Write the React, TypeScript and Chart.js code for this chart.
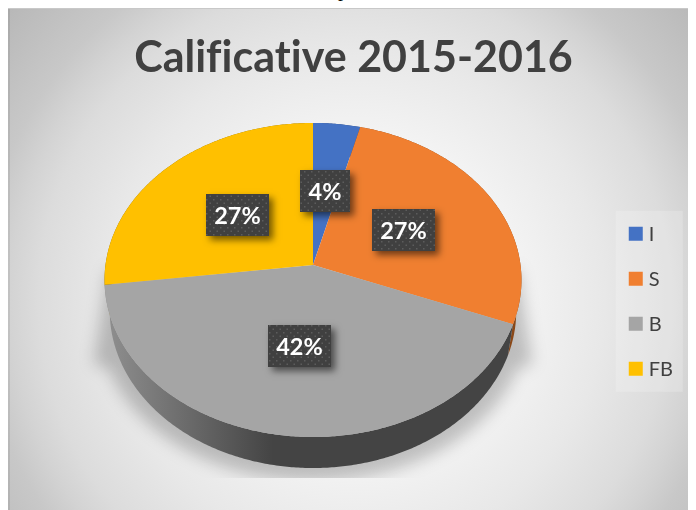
import React, { useEffect, useRef } from "react";
import { Chart, registerables } from "chart.js";

Chart.register(...registerables);

const categories = ["I", "S", "B", "FB"];
const seriesValues = [4, 27, 42, 27];
const sliceColors = ["#4472C4", "#F07F30", "#A5A5A5", "#FFC000"];
const wallColors = ["#2a4478", "#8a4818", "#444444", "#8a6a00"];
const titleText = "Calificative 2015-2016";
const fragmentText = "p";

// Perspective of the tilted pie, canvas coordinates (canvas sits at 8,8)
const CX = 305, APEX_Y = 257, RX = 207.5, RY = 155.6, K = -0.0955;
const DEPTH = 31, BOTTOM_SCALE = 0.975;

const project = (a: number, r = 1) => {
  const u = Math.cos(a) * r, v = Math.sin(a) * r;
  const w = 1 + K * v;
  return { x: CX + (RX * u) / w, y: APEX_Y + (RY * v) / w };
};
const projectBottom = (a: number) => {
  const p = project(a);
  return { x: CX + (p.x - CX) * BOTTOM_SCALE, y: p.y + DEPTH };
};

const rimAngles = (start: number, end: number) => {
  const n = Math.max(2, Math.ceil(Math.abs(end - start) / 0.01));
  const out: number[] = [];
  for (let i = 0; i <= n; i++) out.push(start + ((end - start) * i) / n);
  return out;
};

const backdrop = {
  id: "backdrop",
  beforeDraw(chart: any) {
    const { ctx, width, height } = chart;
    (ctx as any).letterSpacing = "0.01px";
    ctx.save();
    const g = ctx.createRadialGradient(347, 292, 0, 347, 292, 480);
    g.addColorStop(0, "#ffffff");
    g.addColorStop(0.3, "#f6f6f6");
    g.addColorStop(0.52, "#e8e8e8");
    g.addColorStop(0.66, "#dcdcdc");
    g.addColorStop(0.72, "#d3d3d3");
    g.addColorStop(0.78, "#c8c8c8");
    g.addColorStop(0.94, "#b8b8b8");
    g.addColorStop(1, "#b4b4b4");
    ctx.fillStyle = g;
    ctx.fillRect(0, 0, width, height);
    ctx.fillStyle = "rgba(0,0,0,0.08)";
    ctx.fillRect(0, 0, 2, height);
    ctx.fillStyle = "#c8c8c8";
    ctx.fillRect(0, 0, width, 1);

    // legend panel
    const boxes = chart.legend.legendHitBoxes;
    const first = boxes[0], last = boxes[boxes.length - 1];
    ctx.fillStyle = "rgba(255,255,255,0.2)";
    ctx.fillRect(first.left - 13, first.top - 13, 67, last.top + last.height + 13 - (first.top - 13));
    ctx.restore();
  },
  afterDraw(chart: any) {
    const { ctx } = chart;
    ctx.save();
    ctx.fillStyle = "#404040";
    ctx.font = "20px Lato";
    ctx.textAlign = "left";
    ctx.textBaseline = "middle";
    chart.legend.legendItems.forEach((item: any, i: number) => {
      const b = chart.legend.legendHitBoxes[i];
      ctx.fillText(item.text, b.left + 20, b.top + b.height / 2 + 1);
    });
    ctx.restore();
  },
};

const solidPie = {
  id: "solidPie",
  beforeDatasetDraw(chart: any) {
    const { ctx } = chart;
    const arcs = chart.getDatasetMeta(0).data;

    // soft cast shadow, clipped at its lower edge
    ctx.save();
    ctx.beginPath();
    ctx.rect(0, 0, chart.width, 470);
    ctx.clip();
    ctx.filter = "blur(8px)";
    ctx.fillStyle = "rgba(0,0,0,0.22)";
    ctx.beginPath();
    ctx.moveTo(CX - 205, 262);
    ctx.lineTo(CX - 219, 356);
    for (const a of rimAngles(Math.PI * 0.88, Math.PI * 0.12)) {
      const p = projectBottom(a);
      ctx.lineTo(p.x + Math.cos(a) * 10, p.y + 13);
    }
    ctx.lineTo(CX + 219, 356);
    ctx.lineTo(CX + 205, 262);
    ctx.closePath();
    ctx.fill();
    ctx.restore();

    // side wall
    arcs.forEach((arc: any, i: number) => {
      const pts = rimAngles(arc.startAngle, arc.endAngle);
      ctx.beginPath();
      pts.forEach((a, j) => {
        const p = project(a);
        j ? ctx.lineTo(p.x, p.y) : ctx.moveTo(p.x, p.y);
      });
      [...pts].reverse().forEach((a) => {
        const p = projectBottom(a);
        ctx.lineTo(p.x, p.y);
      });
      ctx.closePath();
      if (i === 2) {
        const g = ctx.createLinearGradient(CX - 200, 0, CX - 40, 0);
        g.addColorStop(0, "#8c8c8c");
        g.addColorStop(1, wallColors[2]);
        ctx.fillStyle = g;
      } else ctx.fillStyle = wallColors[i];
      ctx.fill();
    });

    // top faces
    arcs.forEach((arc: any, i: number) => {
      ctx.beginPath();
      ctx.moveTo(CX, APEX_Y);
      rimAngles(arc.startAngle, arc.endAngle).forEach((a) => {
        const p = project(a);
        ctx.lineTo(p.x, p.y);
      });
      ctx.closePath();
      ctx.fillStyle = sliceColors[i];
      ctx.fill();
    });
    return false;
  },
};

const makeDots = (ctx: CanvasRenderingContext2D) => {
  const c = document.createElement("canvas");
  c.width = 7;
  c.height = 7;
  const x = c.getContext("2d")!;
  x.fillStyle = "#404040";
  x.fillRect(0, 0, 7, 7);
  x.fillStyle = "#5c5c5c";
  x.fillRect(2, 2, 1.5, 1.5);
  x.fillRect(5.5, 5.5, 1.5, 1.5);
  return ctx.createPattern(c, "repeat");
};

const valueBoxes = {
  id: "valueBoxes",
  afterDatasetsDraw(chart: any) {
    const { ctx } = chart;
    const arcs = chart.getDatasetMeta(0).data;
    const total = seriesValues.reduce((s, v) => s + v, 0);
    const dots = makeDots(ctx);
    ctx.font = "bold 23.5px Lato";
    ctx.textAlign = "center";
    ctx.textBaseline = "middle";
    arcs.forEach((arc: any, i: number) => {
      const p = project((arc.startAngle + arc.endAngle) / 2, 0.5);
      const label = Math.round((seriesValues[i] / total) * 100) + "%";
      const w = i === 0 ? 50 : 63;
      const h = 42;
      const x = Math.round(p.x - w / 2);
      const y = Math.round(p.y - h / 2);
      ctx.save();
      ctx.shadowColor = "rgba(0,0,0,0.55)";
      ctx.shadowBlur = 7;
      ctx.shadowOffsetX = 4;
      ctx.shadowOffsetY = 4;
      ctx.fillStyle = "#404040";
      ctx.fillRect(x, y, w, h);
      ctx.restore();
      ctx.fillStyle = dots;
      ctx.fillRect(x, y, w, h);
      ctx.fillStyle = "#ffffff";
      ctx.fillText(label, x + w / 2, y + h / 2 + 1);
    });
  },
};

export default function App() {
  const ref = useRef<HTMLCanvasElement>(null);
  useEffect(() => {
    const chart = new Chart(ref.current!, {
      type: "pie",
      data: {
        labels: categories,
        datasets: [{ data: seriesValues, backgroundColor: sliceColors, borderWidth: 0 }],
      },
      options: {
        animation: false,
        responsive: false,
        devicePixelRatio: 1,
        layout: { padding: { top: 24, left: 12, right: 9, bottom: 11 } },
        plugins: {
          title: {
            display: true,
            text: titleText,
            color: "#404040",
            font: { family: "Lato", size: 43, weight: "bold" },
            padding: { top: 0, bottom: 20 },
          },
          legend: {
            position: "right",
            fullSize: false,
            labels: {
              boxWidth: 14,
              boxHeight: 14,
              padding: 25,
              color: "rgba(0,0,0,0)",
              font: { family: "Lato", size: 20 },
            },
          },
          tooltip: { enabled: false },
        },
      },
      plugins: [backdrop, solidPie, valueBoxes],
    });
    return () => chart.destroy();
  }, []);
  return (
    <>
      <div
        style={{
          position: "absolute",
          left: 338,
          top: -22,
          font: "20px 'Liberation Serif'",
          color: "#000",
        }}
      >
        {fragmentText}
      </div>
      <canvas ref={ref} width={688} height={502} style={{ display: "block" }} />
    </>
  );
}
